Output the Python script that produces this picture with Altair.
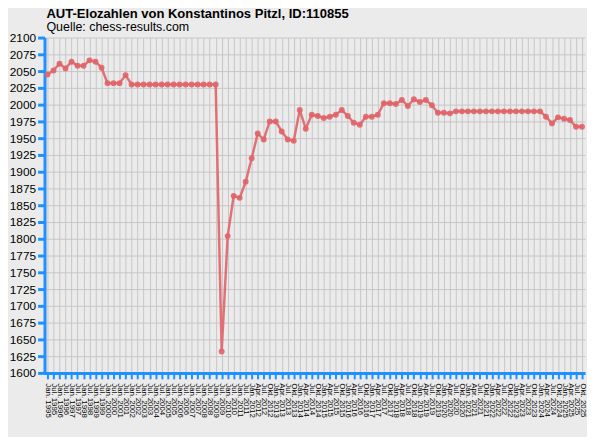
import altair as alt
import pandas as pd

# Rating list periods: semiannual until Jan. 2012, then quarterly
semi = []
for y in range(1995, 2012):
    semi += [f"Jan. {y}", f"Jul. {y}"]
semi += ["Jan. 2012"]
quarterly = []
for y in range(2012, 2026):
    for m in ["Jan.", "Apr.", "Jul.", "Okt."]:
        quarterly.append(f"{m} {y}")
quarterly = quarterly[1:]  # start Apr. 2012
periods = semi + quarterly

elo = [2045, 2051, 2061, 2054, 2064, 2058, 2058, 2066, 2064, 2055,
       2032, 2032, 2032, 2044,
       2030, 2030, 2030, 2030, 2030, 2030, 2030, 2030, 2030, 2030,
       2030, 2030, 2030, 2030, 2030,
       1632, 1804, 1864, 1861, 1885, 1920, 1957, 1948, 1975, 1975,
       1960, 1948, 1946, 1992, 1964, 1985, 1983, 1980, 1982, 1985,
       1992, 1983, 1973, 1970, 1982, 1982, 1985, 2002, 2002, 2001,
       2007, 1998, 2008, 2004, 2007, 1999, 1988, 1988, 1987,
       1990, 1990, 1990, 1990, 1990, 1990, 1990, 1990, 1990, 1990,
       1990, 1990, 1990, 1990, 1990,
       1982, 1972, 1981, 1979, 1977, 1967, 1967]

periods = periods[:len(elo)]
df = pd.DataFrame({"periode": periods, "elo": elo})

y_ticks = list(range(1600, 2101, 25))
BLUE = "#1e90ff"
RED = "#e06468"

chart = alt.Chart(df).mark_line(
    color=RED, strokeWidth=2.5, opacity=0.9,
    point=alt.OverlayMarkDef(color=RED, size=36, filled=True, opacity=0.9)
).encode(
    x=alt.X("periode:O", sort=None, title=None,
            scale=alt.Scale(paddingOuter=0.6, paddingInner=0),
            axis=alt.Axis(labelAngle=90, labelAlign="left", labelBaseline="middle",
                          labelFontSize=8, labelColor="#000000", labelPadding=4,
                          domainColor=BLUE, domainWidth=3, tickColor=BLUE,
                          tickSize=6, tickWidth=2, grid=True, gridColor="#c6c6c6",
                          gridWidth=1, labelFont="Liberation Sans")),
    y=alt.Y("elo:Q", title=None,
            scale=alt.Scale(domain=[1600, 2100], nice=False, zero=False),
            axis=alt.Axis(values=y_ticks, format="d", labelFontSize=12,
                          labelColor="#000000",
                          domainColor=BLUE, domainWidth=3, tickColor=BLUE,
                          tickSize=7, tickWidth=3, gridColor="#c6c6c6", gridWidth=1,
                          labelFont="Liberation Sans", labelPadding=2)),
).properties(
    width=548, height=340,
    title=alt.TitleParams(
        text="AUT-Elozahlen von Konstantinos Pitzl, ID:110855",
        subtitle="Quelle: chess-results.com",
        anchor="start", frame="group", dx=2, dy=7, offset=4,
        font="Liberation Sans", fontSize=13.2, fontWeight="bold", color="#000000",
        subtitleFont="Liberation Sans", subtitleFontSize=12.6, subtitleColor="#000000",
        subtitlePadding=0),
    autosize=alt.AutoSizeParams(type="none"),
    padding={"left": 37, "top": 27, "right": 2, "bottom": 62},
    background="#ebebeb",
).configure_view(fill="#ebebeb", stroke=None)

chart.save("out.html", embed_options={"renderer": "svg", "actions": False})
